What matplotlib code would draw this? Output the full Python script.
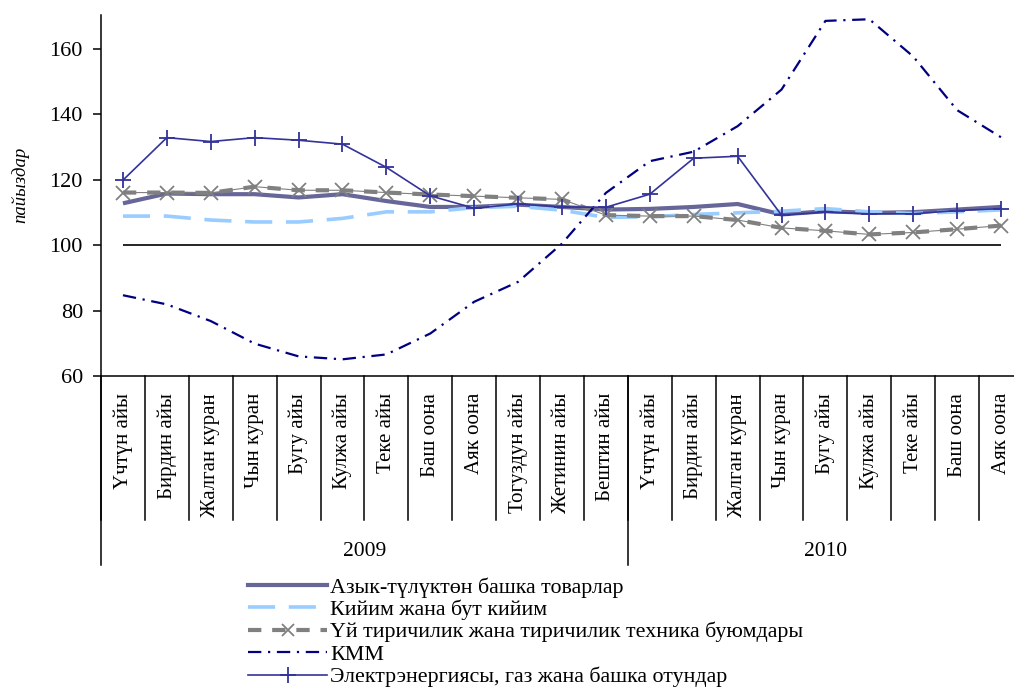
import matplotlib
matplotlib.use("Agg")
import matplotlib.pyplot as plt
import matplotlib.transforms as mtransforms
from matplotlib.lines import Line2D

plt.rcParams["font.family"] = ["Liberation Serif", "DejaVu Serif"]

# данные
months = ["Үчтүн айы", "Бирдин айы", "Жалган куран", "Чын куран", "Бугу айы",
          "Кулжа айы", "Теке айы", "Баш оона", "Аяк оона", "Тогуздун айы",
          "Жетинин айы", "Бештин айы",
          "Үчтүн айы", "Бирдин айы", "Жалган куран", "Чын куран", "Бугу айы",
          "Кулжа айы", "Теке айы", "Баш оона", "Аяк оона"]
years = ["2009", "2010"]
year_sizes = [12, 9]

nonfood = [112.8, 115.8, 115.6, 115.6, 114.6, 115.6, 113.5, 111.7, 111.7, 112.4, 111.7,
           110.9, 111.1, 111.7, 112.6, 109.4, 110.4, 109.9, 110.1, 110.9, 111.7]
clothes = [108.9, 108.9, 107.7, 107.1, 107.1, 108.2, 110.2, 110.2, 111.5, 111.9, 110.7,
           108.5, 108.7, 109.4, 109.9, 110.4, 111.2, 110.2, 109.7, 110.2, 110.8]
household = [116.1, 116.1, 116.0, 117.9, 116.8, 116.8, 116.1, 115.5, 115.0, 114.5, 114.0,
             109.2, 108.9, 108.9, 107.7, 105.3, 104.4, 103.3, 103.9, 104.9, 106.0]
fuel = [84.7, 81.9, 76.8, 69.9, 66.0, 65.1, 66.6, 73.0, 82.7, 88.8, 100.5,
        116.0, 125.7, 128.6, 136.4, 147.6, 168.6, 169.1, 157.7, 141.3, 133.0]
power = [119.9, 132.9, 131.7, 132.9, 132.1, 130.9, 123.8, 115.1, 111.3, 112.6, 111.7,
         111.6, 115.6, 126.6, 127.2, 109.2, 110.1, 109.6, 109.6, 110.6, 111.2]
base_level = 100

labels = ["Азык-түлүктөн башка товарлар", "Кийим жана бут кийим",
          "Үй тиричилик жана тиричилик техника буюмдары", "КММ",
          "Электрэнергиясы, газ жана башка отундар"]

W, H = 1014, 689
fig = plt.figure(figsize=(W / 100, H / 100), dpi=100)
ax = fig.add_axes([101 / W, (H - 376) / H, 922 / W, 361 / H])

x = list(range(len(months)))

ax.hlines(base_level, x[0], x[-1], color="black", lw=1.2, zorder=2)

ax.plot(x, nonfood, color="#666699", lw=3.0, zorder=3, solid_capstyle="butt")
ax.plot(x, clothes, color="#99CCFF", lw=2.6, dashes=(7.5, 3.8), zorder=3)
ax.plot(x, household, color="#808080", lw=0.8, zorder=3)
ax.plot(x, household, color="#808080", lw=3.0, dashes=(3.2, 2.6), zorder=3,
        marker="x", ms=10, mew=1.3)
ax.plot(x, fuel, color="#000080", lw=1.6, dashes=(6, 3, 1, 3), zorder=4)
ax.plot(x, power, color="#333399", lw=1.2, marker="+", ms=11, mew=1.3, zorder=5)

ax.set_xlim(-0.5, len(months) - 0.5)
ax.set_ylim(60, 170.4)
ax.set_yticks(range(60, 161, 20))
ax.tick_params(axis="y", direction="out", length=6, width=1.1, pad=7)
for lab in ax.get_yticklabels():
    lab.set_fontfamily(["Liberation Serif", "DejaVu Serif"])
    lab.set_fontsize(16)
ax.set_xticks([])
for s in ["top", "right"]:
    ax.spines[s].set_visible(False)
for s in ["left", "bottom"]:
    ax.spines[s].set_linewidth(1.1)

# подписи категорий
trans = mtransforms.blended_transform_factory(ax.transData, ax.transAxes)
for i, m in enumerate(months):
    ax.text(i, -0.047, m, transform=trans, rotation=90, ha="center", va="top",
            fontsize=15)
for i in range(len(months) + 1):
    ax.plot([i - 0.5, i - 0.5], [0, -0.399], transform=trans, color="black",
            lw=1.1, clip_on=False)
start = 0
for yr, n in zip(years, year_sizes):
    ax.plot([start - 0.5, start - 0.5], [0, -0.5235], transform=trans,
            color="black", lw=1.1, clip_on=False)
    ax.text(start + n / 2 - 0.5, -0.4875, yr, transform=trans, ha="center",
            va="center", fontsize=15.5)
    start += n

fig.text(20 / W, 1 - 185 / H, "пайыздар", rotation=90, style="italic",
         ha="center", va="center", fontsize=13.5)

handles = [
    Line2D([], [], color="#666699", lw=3.0),
    Line2D([], [], color="#99CCFF", lw=2.6, dashes=(7.5, 3.8)),
    Line2D([], [], color="#808080", lw=3.0, dashes=(3.2, 2.6), marker="x", ms=8, mew=1.3),
    Line2D([], [], color="#000080", lw=1.6, dashes=(6, 3, 1, 3)),
    Line2D([], [], color="#333399", lw=1.2, marker="+", ms=11, mew=1.3),
]
fig.legend(handles, labels, loc="upper left", bbox_to_anchor=(248 / W, 1 - 577 / H),
           frameon=False, fontsize=15.8, handlelength=3.6, handletextpad=0.15,
           labelspacing=0.09, borderpad=0, borderaxespad=0, numpoints=1)

fig.savefig("out.png", dpi=100)
